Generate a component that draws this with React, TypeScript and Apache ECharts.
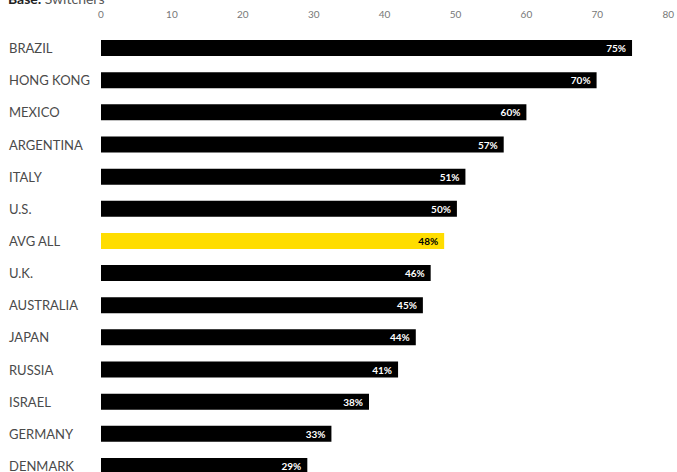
import React, { useEffect, useRef } from "react";
import * as echarts from "echarts";

const categories = [
  "BRAZIL", "HONG KONG", "MEXICO", "ARGENTINA", "ITALY", "U.S.", "AVG ALL",
  "U.K.", "AUSTRALIA", "JAPAN", "RUSSIA", "ISRAEL", "GERMANY", "DENMARK",
];
const values = [74.9, 69.9, 60.0, 56.8, 51.4, 50.2, 48.4, 46.5, 45.4, 44.4, 41.9, 37.8, 32.5, 29.1];
const valueLabels = ["75%", "70%", "60%", "57%", "51%", "50%", "48%", "46%", "45%", "44%", "41%", "38%", "33%", "29%"];
const highlight = "AVG ALL";
const xTicks = [0, 10, 20, 30, 40, 50, 60, 70, 80];

const FONT = "Lato, 'Noto Sans', sans-serif";

export default function App() {
  const ref = useRef<HTMLDivElement>(null);
  useEffect(() => {
    if (!ref.current) return;
    const chart = echarts.init(ref.current, undefined, { renderer: "svg" });
    chart.setOption({
      animation: false,
      textStyle: { fontFamily: FONT },
      graphic: [
        {
          type: "text",
          left: 8,
          top: -9,
          style: {
            text: "{b|Base:} {r|Switchers}",
            rich: {
              b: { fontFamily: FONT, fontSize: 14, fontWeight: "bold", fill: "#222" },
              r: { fontFamily: FONT, fontSize: 14, fill: "#555" },
            },
          },
        },
      ],
      grid: { left: 101, right: 7, top: 32, height: 450, containLabel: false },
      xAxis: {
        type: "value",
        position: "top",
        min: xTicks[0],
        max: xTicks[xTicks.length - 1],
        interval: 10,
        axisLine: { show: false },
        axisTick: { show: false },
        splitLine: { show: false },
        axisLabel: { color: "#777", fontSize: 10, fontFamily: FONT, margin: 13 },
      },
      yAxis: {
        type: "category",
        inverse: true,
        data: categories,
        axisLine: { show: false },
        axisTick: { show: false },
        axisLabel: {
          align: "left",
          margin: 92,
          color: "#4a4a4a",
          fontSize: 13,
          fontFamily: FONT,
        },
      },
      series: [
        {
          type: "bar",
          barWidth: 16,
          data: values.map((v, i) => ({
            value: v,
            itemStyle: { color: categories[i] === highlight ? "#FFDD00" : "#000000" },
            label: {
              show: true,
              position: "insideRight",
              distance: 6,
              formatter: () => valueLabels[i],
              color: categories[i] === highlight ? "#000" : "#fff",
              fontSize: 10,
              fontWeight: "bold",
              fontFamily: FONT,
            },
          })),
        },
      ],
    });
    return () => chart.dispose();
  }, []);
  return (
    <div style={{ position: "fixed", left: 0, top: 0, width: 677, height: 472, overflow: "hidden", background: "#fff" }}>
      <div ref={ref} style={{ width: 677, height: 490 }} />
    </div>
  );
}
